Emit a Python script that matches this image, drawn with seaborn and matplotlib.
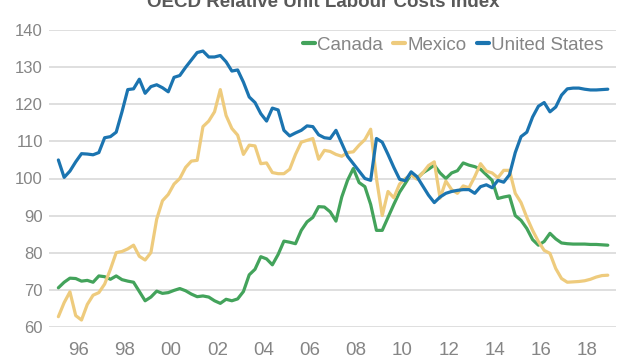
import matplotlib
matplotlib.use('Agg')
import matplotlib.pyplot as plt
import numpy as np
import pandas as pd
import seaborn as sns

# Quarterly index values, 1995Q1 - 2018Q4
canada = [70.5, 72, 73.1, 73, 72.3, 72.5, 72, 73.7, 73.5, 72.8, 73.7, 72.7,
          72.3, 72, 69.5, 67, 68, 69.6, 69, 69.2, 69.8, 70.3, 69.7, 68.8,
          68.1, 68.3, 68, 67, 66.3, 67.4, 67, 67.5, 69.5, 74, 75.5, 78.9,
          78.3, 76.7, 79.5, 83.1, 82.8, 82.4, 86, 88.3, 89.5, 92.4, 92.3, 91,
          88.5, 95, 99.5, 102.7, 98.9, 97.8, 93, 86, 86, 89.5, 93, 96.3,
          98.7, 101.2, 100, 101.5, 102.5, 103.6, 101.5, 100, 101.5, 102.1, 104.2, 103.6,
          103.2, 102.5, 101, 99.5, 94.6, 95, 95.3, 90, 88.7, 86.5, 83.5, 82,
          83, 85.2, 83.7, 82.6, 82.4, 82.3, 82.3, 82.3, 82.2, 82.2, 82.1, 82.0]
mexico = [62.7, 66.5, 69.4, 63, 61.8, 66, 68.5, 69.2, 71.5, 75.5, 80, 80.3,
          81, 82, 79, 78, 80, 89, 94, 95.7, 98.5, 100, 103, 104.7,
          104.9, 114, 115.5, 118, 124, 117, 113.5, 111.7, 106.5, 109, 108.8, 104,
          104.2, 101.6, 101.3, 101.3, 102.5, 106.5, 109.8, 110.3, 110.8, 105.2, 107.6, 107.3,
          106.5, 106, 107, 107.2, 109, 110.5, 113.3, 100, 90, 96.5, 94.8, 98.5,
          100, 101, 99.8, 101.5, 103.5, 104.5, 94.7, 99.3, 97, 96, 98, 97.5,
          100.5, 104, 102, 101.5, 100.2, 102.2, 102.2, 96, 93.5, 89.5, 86, 83,
          80.6, 79.8, 75.7, 73, 72, 72.1, 72.2, 72.4, 72.8, 73.4, 73.8, 73.9]
united_states = [105, 100.3, 102, 104.5, 106.7, 106.6, 106.4, 107, 111, 111.3, 112.5, 118,
                 124, 124.2, 126.8, 123, 124.8, 125.3, 124.5, 123.4, 127.3, 127.8, 130, 132,
                 134, 134.4, 132.8, 132.8, 133.2, 131.5, 129, 129.3, 126, 122, 120.5, 117.5,
                 115.5, 119, 118.5, 113, 111.5, 112.3, 113, 114.2, 114, 111.8, 111, 110.8,
                 113, 109.5, 106, 104, 102, 100, 99.5, 110.8, 109.8, 106.5, 103, 99.8,
                 99.4, 101.8, 100.5, 98, 95.5, 93.5, 95, 96, 96.5, 96.8, 97, 97,
                 96, 97.8, 98.3, 97.5, 99.5, 99, 101, 107, 111.3, 112.5, 116.6, 119.5,
                 120.5, 118, 119.3, 122.5, 124.2, 124.4, 124.4, 124.1, 123.9, 123.9, 124, 124.1]

countries = ['Canada', 'Mexico', 'United States']
colors = ['#43a35b', '#eecb7d', '#1b74b0']
tick_years = list(range(1996, 2019, 2))
tick_labels = ['96', '98', '00', '02', '04', '06', '08', '10', '12', '14', '16', '18']

# quarter mid-points
t = 1995.125 + 0.25 * np.arange(len(canada))
df = pd.DataFrame({'t': np.tile(t, 3),
                   'value': canada + mexico + united_states,
                   'Country': np.repeat(countries, len(t))})

sns.set_style('white')
plt.rcParams['font.family'] = ['Liberation Sans', 'DejaVu Sans']

fig = plt.figure(figsize=(6.4, 3.6), dpi=100)
ax = fig.add_axes([49 / 640, 1 - 326.7 / 360, (616 - 49) / 640, (326.7 - 30.3) / 360])

sns.lineplot(data=df, x='t', y='value', hue='Country',
             palette=dict(zip(countries, colors)), linewidth=2.3, ax=ax)

ax.set_xlim(1994.72, 2019.23)
ax.set_ylim(60, 140)
ax.set_yticks(range(60, 141, 10))
ax.set_xticks(tick_years)
ax.set_xticklabels(tick_labels)
ax.set_xlabel('')
ax.set_ylabel('')
ax.yaxis.grid(True, color='#d9d9d9', linewidth=1.2)
ax.set_axisbelow(True)
for s in ax.spines.values():
    s.set_visible(False)
ax.tick_params(axis='y', length=0, pad=4.5, labelsize=12, labelcolor='#858585')
ax.tick_params(axis='x', length=0, pad=11, labelsize=13.5, labelcolor='#858585')

leg = ax.legend(loc='center right', bbox_to_anchor=(603 / 640, 1 - 45 / 360),
                bbox_transform=fig.transFigure, ncol=3, frameon=False,
                fontsize=13.5, handlelength=0.65, handletextpad=0.1,
                columnspacing=0.55, borderpad=0, borderaxespad=0)
for txt in leg.get_texts():
    txt.set_color('#858585')
for h in leg.get_lines():
    h.set_linewidth(3)

fig.text(323 / 640, 1 - 7 / 360, 'OECD Relative Unit Labour Costs Index',
         ha='center', va='baseline', fontsize=13.5, fontweight='bold', color='#595959')

plt.savefig('out.png', dpi=100)
